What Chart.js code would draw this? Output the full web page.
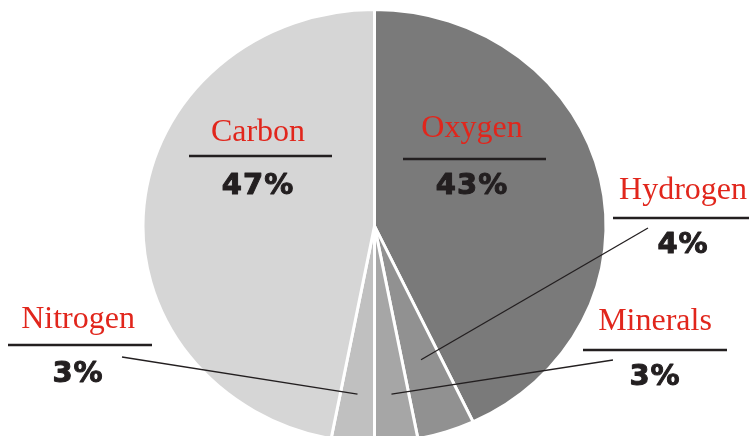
<!DOCTYPE html>
<html>
<head>
<meta charset="utf-8">
<script src="https://cdn.jsdelivr.net/npm/chart.js@4"></script>
<style>
  html, body { margin: 0; padding: 0; background: #fff; }
  #wrap { width: 749px; height: 436px; position: relative; overflow: hidden; }
</style>
</head>
<body>
<div id="wrap"><canvas id="pieChart" width="749" height="436"></canvas></div>
<script>
// chart data
const elements = ['Oxygen', 'Hydrogen', 'Minerals', 'Nitrogen', 'Carbon'];
const percents = [43, 4, 3, 3, 47];
const sliceColors = ['#7a7a7a', '#919191', '#a6a6a6', '#c0c0c0', '#d6d6d6'];

// where each label sits (text centre x, baselines, underline, leader line)
const labelLayout = [
    { x: 472, nameY: 137, lineY: 159, x0: 403, x1: 546, pctY: 194 },
    { x: 683, nameY: 199, lineY: 218, x0: 613, x1: 749, pctY: 253, from: [648, 228], depth: 0.65 },
    { x: 655, nameY: 330, lineY: 350, x0: 583, x1: 727, pctY: 385, from: [613, 360], depth: 0.78 },
    { x: 78,  nameY: 328, lineY: 345, x0: 8,   x1: 152, pctY: 382, from: [122, 357], depth: 0.78 },
    { x: 258, nameY: 141, lineY: 156, x0: 189, x1: 332, pctY: 194 }
];

const squash = 215 / 230; // the pie is a little flatter than a circle

const ellipsePlugin = {
    id: 'ellipse',
    beforeDatasetsDraw(chart) {
        const arc = chart.getDatasetMeta(0).data[0];
        const ctx = chart.ctx;
        ctx.save();
        ctx.translate(0, arc.y);
        ctx.scale(1, squash);
        ctx.translate(0, -arc.y);
    },
    afterDatasetsDraw(chart) {
        chart.ctx.restore();
    }
};

const labelPlugin = {
    id: 'sliceLabels',
    afterDraw(chart) {
        const ctx = chart.ctx;
        const arcs = chart.getDatasetMeta(0).data;
        ctx.save();
        ctx.textAlign = 'center';
        ctx.textBaseline = 'alphabetic';
        labelLayout.forEach((l, i) => {
            // leader line into the slice
            if (l.from) {
                const a = arcs[i];
                const mid = (a.startAngle + a.endAngle) / 2;
                const r = a.outerRadius * l.depth;
                const tx = a.x + Math.cos(mid) * r;
                const ty = a.y + Math.sin(mid) * r * squash;
                ctx.strokeStyle = '#231f20';
                ctx.lineWidth = 1.3;
                ctx.beginPath();
                ctx.moveTo(l.from[0], l.from[1]);
                ctx.lineTo(tx, ty);
                ctx.stroke();
            }
            ctx.fillStyle = '#e1261c';
            ctx.font = '32px "Liberation Serif"';
            ctx.fillText(elements[i], l.x, l.nameY);

            ctx.strokeStyle = '#231f20';
            ctx.lineWidth = 2.5;
            ctx.beginPath();
            ctx.moveTo(l.x0, l.lineY);
            ctx.lineTo(l.x1, l.lineY);
            ctx.stroke();

            // heavy percentage figure
            ctx.fillStyle = '#231f20';
            ctx.font = 'bold 29px "DejaVu Sans"';
            ctx.letterSpacing = '1px';
            ctx.lineWidth = 1;
            ctx.lineJoin = 'round';
            ctx.fillText(percents[i] + '%', l.x, l.pctY);
            ctx.strokeText(percents[i] + '%', l.x, l.pctY);
            ctx.letterSpacing = '0px';
        });
        ctx.restore();
    }
};

const ctx = document.getElementById('pieChart').getContext('2d');
new Chart(ctx, {
    type: 'pie',
    data: {
        labels: elements,
        datasets: [{
            data: percents,
            backgroundColor: sliceColors,
            borderColor: '#ffffff',
            borderWidth: 3,
            radius: 231.5,
            clip: false
        }]
    },
    options: {
        responsive: false,
        animation: false,
        events: [],
        layout: { padding: { top: 16 } },
        plugins: {
            legend: { display: false },
            tooltip: { enabled: false }
        }
    },
    plugins: [ellipsePlugin, labelPlugin]
});
</script>
</body>
</html>
